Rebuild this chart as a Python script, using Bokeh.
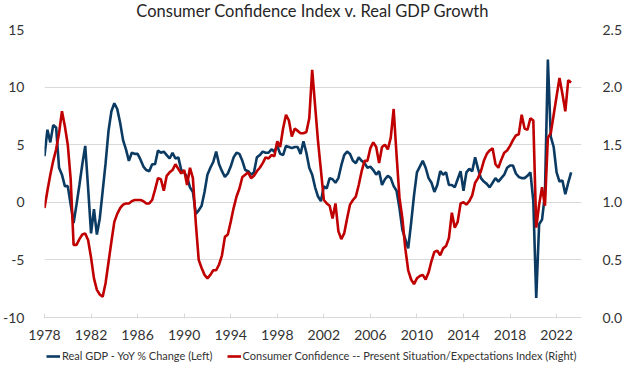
from bokeh.plotting import figure
from bokeh.layouts import column
from bokeh.models import Range1d, LinearAxis, FixedTicker, PrintfTickFormatter, Legend, LegendItem, Label
from bokeh.embed import file_html
from bokeh.resources import INLINE

# Quarterly series, starting 1978 Q1
start_year = 1978

# Real GDP, YoY % change (left axis)
gdp_yoy = [
    4.0, 6.3, 5.2, 6.7,     # 1978
    6.5, 3.0, 2.4, 1.4,     # 1979
    1.4, -0.2, -1.8, -0.2,  # 1980
    1.5, 3.3, 4.9, 1.2,     # 1981
    -2.7, -0.6, -2.8, -1.4, # 1982
    1.0, 3.4, 6.2, 7.9,     # 1983
    8.6, 8.1, 6.9, 5.4,     # 1984
    4.6, 3.6, 4.3, 4.2,     # 1985
    4.2, 3.7, 3.1, 2.8,     # 1986
    2.7, 3.3, 3.3, 4.5,     # 1987
    4.3, 4.4, 4.1, 3.8,     # 1988
    4.3, 3.8, 3.9, 2.8,     # 1989
    2.6, 2.2, 1.3, 0.9,     # 1990
    -1.0, -0.7, -0.3, 0.9,  # 1991
    2.4, 3.0, 3.5, 4.4,     # 1992
    3.3, 2.7, 2.2, 2.5,     # 1993
    3.1, 3.9, 4.3, 4.2,     # 1994
    3.6, 2.8, 2.7, 2.4,     # 1995
    2.6, 3.9, 4.1, 4.4,     # 1996
    4.3, 4.3, 4.6, 4.4,     # 1997
    4.9, 4.2, 4.1, 4.9,     # 1998
    4.8, 4.7, 4.8, 4.8,     # 1999
    4.2, 5.3, 4.3, 3.0,     # 2000
    2.4, 1.3, 0.5, 0.1,     # 2001
    1.4, 1.2, 2.1, 2.0,     # 2002
    1.7, 2.1, 3.2, 4.1,     # 2003
    4.4, 4.2, 3.6, 3.4,     # 2004
    3.9, 3.6, 3.4, 3.0,     # 2005
    3.1, 2.8, 2.4, 2.7,     # 2006
    1.5, 2.0, 2.3, 2.1,     # 2007
    1.4, 1.0, -0.5, -2.4,   # 2008
    -3.2, -4.0, -1.8, 0.6,  # 2009
    2.6, 3.1, 3.6, 3.0,     # 2010
    2.1, 1.7, 0.9, 1.5,     # 2011
    2.7, 2.4, 2.6, 1.5,     # 2012
    1.5, 1.3, 2.0, 2.7,     # 2013
    1.0, 2.6, 2.9, 2.7,     # 2014
    3.9, 2.9, 2.1, 1.8,     # 2015
    1.6, 1.3, 1.7, 2.1,     # 2016
    1.8, 2.1, 2.4, 3.0,     # 2017
    3.2, 3.2, 2.5, 2.2,     # 2018
    2.1, 2.1, 2.3, 2.6,     # 2019
    0.1, -8.3, -1.9, -1.5,  # 2020
    0.7, 12.4, 5.7, 4.8,    # 2021
    2.6, 1.8, 1.9, 0.7,     # 2022
    1.7, 2.6,               # 2023
]

# Consumer Confidence: Present Situation / Expectations index (right axis)
cc_ratio = [
    0.95, 1.10, 1.24, 1.36,  # 1978
    1.46, 1.60, 1.79, 1.66,  # 1979
    1.50, 1.20, 0.63, 0.63,  # 1980
    0.68, 0.72, 0.73, 0.67,  # 1981
    0.52, 0.34, 0.24, 0.20,  # 1982
    0.18, 0.30, 0.48, 0.66,  # 1983
    0.83, 0.90, 0.95, 0.98,  # 1984
    0.99, 0.99, 1.01, 1.02,  # 1985
    1.02, 1.02, 1.01, 0.99,  # 1986
    0.99, 1.02, 1.11, 1.21,  # 1987
    1.20, 1.10, 1.23, 1.26,  # 1988
    1.28, 1.33, 1.29, 1.25,  # 1989
    1.28, 1.15, 1.30, 1.21,  # 1990
    0.82, 0.50, 0.43, 0.37,  # 1991
    0.34, 0.37, 0.41, 0.41,  # 1992
    0.46, 0.54, 0.70, 0.72,  # 1993
    0.83, 0.95, 1.05, 1.12,  # 1994
    1.22, 1.24, 1.26, 1.21,  # 1995
    1.23, 1.27, 1.30, 1.34,  # 1996
    1.39, 1.38, 1.41, 1.40,  # 1997
    1.53, 1.48, 1.64, 1.76,  # 1998
    1.71, 1.57, 1.64, 1.62,  # 1999
    1.60, 1.60, 1.61, 1.73,  # 2000
    2.15, 1.84, 1.53, 1.28,  # 2001
    1.02, 0.99, 0.97, 0.86,  # 2002
    0.99, 0.75, 0.68, 0.73,  # 2003
    0.86, 0.98, 1.02, 1.05,  # 2004
    1.15, 1.27, 1.36, 1.36,  # 2005
    1.47, 1.52, 1.48, 1.34,  # 2006
    1.48, 1.50, 1.46, 1.56,  # 2007
    1.81, 1.41, 1.04, 0.86,  # 2008
    0.60, 0.41, 0.33, 0.29,  # 2009
    0.34, 0.36, 0.37, 0.33,  # 2010
    0.39, 0.49, 0.57, 0.58,  # 2011
    0.54, 0.60, 0.62, 0.69,  # 2012
    0.91, 0.78, 0.83, 0.99,  # 2013
    1.00, 0.98, 1.01, 1.06,  # 2014
    1.17, 1.21, 1.27, 1.36,  # 2015
    1.42, 1.45, 1.47, 1.33,  # 2016
    1.30, 1.37, 1.43, 1.45,  # 2017
    1.49, 1.54, 1.58, 1.59,  # 2018
    1.76, 1.64, 1.63, 1.73,  # 2019
    1.71, 0.78, 0.98, 1.13,  # 2020
    0.97, 1.56, 1.60, 1.76,  # 2021
    1.92, 2.08, 1.94, 1.79,  # 2022
    2.06, 2.04,              # 2023
]

x_ticks = [1978, 1982, 1986, 1990, 1994, 1998, 2002, 2006, 2010, 2014, 2018, 2022]
left_ticks = [-10, -5, 0, 5, 10, 15]
right_ticks = [0.0, 0.5, 1.0, 1.5, 2.0, 2.5]

title_text = "Consumer Confidence Index v. Real GDP Growth"
gdp_label = "Real GDP - YoY % Change (Left)"
cc_label = "Consumer Confidence -- Present Situation/Expectations Index (Right)"

dates = [start_year + i / 4 for i in range(len(gdp_yoy))]

FONT = "Lato"
TXT = "#333333"
GRID = "#D9D9D9"
BLUE = "#0B3A62"
RED = "#C00000"

W = 625

# title strip
tf = figure(width=W, height=20, x_range=Range1d(0, 1), y_range=Range1d(0, 1),
            x_axis_type=None, y_axis_type=None,
            output_backend="svg", toolbar_location=None,
            min_border_left=0, min_border_right=0, min_border_top=0, min_border_bottom=0)
tf.outline_line_color = None
tf.grid.visible = False
tf.add_layout(Label(x=0.5, y=0.5, text=title_text, text_align="center",
                    text_baseline="middle", text_font=FONT, text_font_size="16.5px",
                    text_color="#262626"))

# main chart
p = figure(width=W, height=326,
           x_range=Range1d(1978, 2024.14), y_range=Range1d(-10, 15),
           output_backend="svg", toolbar_location=None,
           min_border_left=38, min_border_right=37, min_border_top=9, min_border_bottom=29)
p.extra_y_ranges = {"right": Range1d(0, 2.5)}
p.outline_line_color = None
p.background_fill_color = "white"
p.title.visible = False

p.xgrid.visible = False
p.ygrid.ticker = FixedTicker(ticks=left_ticks)
p.ygrid.grid_line_color = GRID
p.ygrid.grid_line_width = 1

# left axis
ya = p.yaxis[0]
ya.ticker = FixedTicker(ticks=left_ticks)
ya.formatter = PrintfTickFormatter(format="%d")
ya.axis_line_color = None
ya.major_tick_line_color = None
ya.minor_tick_line_color = None
ya.major_label_text_font = FONT
ya.major_label_text_font_size = "14px"
ya.major_label_text_color = TXT
ya.major_label_standoff = 14

# right axis
ra = LinearAxis(y_range_name="right", ticker=FixedTicker(ticks=right_ticks),
                formatter=PrintfTickFormatter(format="%.1f"))
ra.axis_line_color = None
ra.major_tick_line_color = None
ra.minor_tick_line_color = None
ra.major_label_text_font = FONT
ra.major_label_text_font_size = "14px"
ra.major_label_text_color = TXT
ra.major_label_standoff = 15
p.add_layout(ra, "right")

# x axis
xa = p.xaxis[0]
xa.ticker = FixedTicker(ticks=x_ticks)
xa.formatter = PrintfTickFormatter(format="%d")
xa.axis_line_color = GRID
xa.major_tick_line_color = GRID
xa.major_tick_in = 4
xa.major_tick_out = 1
xa.minor_tick_line_color = None
xa.major_label_text_font = FONT
xa.major_label_text_font_size = "14px"
xa.major_label_text_color = TXT
xa.major_label_standoff = 11

r_gdp = p.line(dates, gdp_yoy, line_color=BLUE, line_width=2.6)
r_cc = p.line(dates, cc_ratio, line_color=RED, line_width=2.6, y_range_name="right")

# legend strip below the chart (same series, kept outside its visible ranges)
lg = figure(width=W, height=19, x_range=Range1d(0, 1), y_range=Range1d(100, 101),
            x_axis_type=None, y_axis_type=None,
            output_backend="svg", toolbar_location=None,
            min_border_left=0, min_border_right=0, min_border_top=0, min_border_bottom=0)
lg.outline_line_color = None
lg.grid.visible = False
k_gdp = lg.line(dates, gdp_yoy, line_color=BLUE, line_width=2.6)
k_cc = lg.line(dates, cc_ratio, line_color=RED, line_width=2.6)

legend = Legend(items=[LegendItem(label=gdp_label, renderers=[k_gdp]),
                       LegendItem(label=cc_label, renderers=[k_cc])],
                orientation="horizontal", location=(2, 3))
legend.label_text_font = FONT
legend.label_text_font_size = "11px"
legend.label_text_color = TXT
legend.glyph_width = 14
legend.glyph_height = 10
legend.label_standoff = 2
legend.spacing = 14
legend.padding = 1
legend.margin = 0
legend.border_line_color = None
legend.background_fill_alpha = 0
lg.add_layout(legend)

layout = column(tf, p, lg, spacing=0)
open("out.html", "w").write(file_html(layout, INLINE))
